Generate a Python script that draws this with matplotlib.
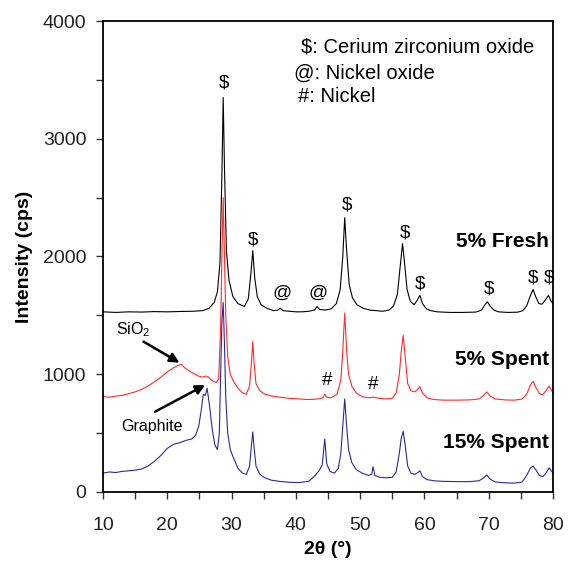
import matplotlib
matplotlib.use("Agg")
import matplotlib.pyplot as plt

plt.rcParams['font.family'] = ['Liberation Sans', 'DejaVu Sans']
plt.rcParams['mathtext.fontset'] = 'custom'
plt.rcParams['mathtext.rm'] = 'Liberation Sans'

# 2theta / intensity
fresh_x = [10, 12, 14, 16, 18, 20, 22, 24, 25.5, 26.5, 27.3, 27.8, 28.2, 28.5, 28.7, 28.9, 29.2, 29.6,
           30.2, 31.0, 32.0, 32.6, 33.0, 33.3, 33.6, 34.0, 34.6, 35.5, 36.5, 37.2, 37.6, 38.0, 39, 40,
           41, 42, 42.9, 43.3, 43.7, 44.5, 45.5, 46.3, 46.9, 47.3, 47.6, 47.9, 48.3, 48.8, 49.5, 50.5,
           51.5, 52.5, 53.5, 54.5, 55.2, 55.8, 56.2, 56.6, 56.9, 57.3, 57.8, 58.4, 58.9, 59.3, 59.7,
           60.3, 61, 62, 64, 66, 68, 68.9, 69.4, 69.8, 70.2, 70.8, 71.5, 73, 74.5, 75.3, 75.9, 76.5,
           76.9, 77.3, 77.8, 78.3, 78.8, 79.3, 79.7, 80]
fresh_y = [1530, 1525, 1530, 1528, 1532, 1530, 1533, 1535, 1540, 1560, 1610, 1700, 1950, 2700, 3350,
           2750, 2050, 1800, 1660, 1600, 1575, 1640, 1850, 2050, 1820, 1660, 1590, 1560, 1540, 1545,
           1560, 1540, 1535, 1530, 1530, 1535, 1545, 1575, 1550, 1545, 1555, 1600, 1720, 2000, 2330,
           2050, 1760, 1650, 1590, 1560, 1545, 1540, 1535, 1545, 1580, 1680, 1900, 2110, 1950, 1720,
           1620, 1590, 1630, 1670, 1600, 1555, 1540, 1530, 1525, 1525, 1528, 1545, 1590, 1615, 1580,
           1545, 1530, 1525, 1527, 1540, 1580, 1670, 1720, 1660, 1600, 1595, 1630, 1670, 1620, 1600]

spent5_x = [10, 11, 12, 13, 14, 15, 16, 17, 18, 19, 20, 21, 21.7, 22.2, 22.6, 23.2, 24, 24.8, 25.5,
            26.0, 26.4, 27.0, 27.6, 28.0, 28.3, 28.5, 28.7, 28.9, 29.1, 29.4, 29.8, 30.3, 31.0, 31.7,
            32.3, 32.8, 33.1, 33.3, 33.5, 33.8, 34.4, 35.2, 36.2, 37.5, 39, 40.5, 42, 43.5, 44.2, 44.5,
            44.8, 45.5, 46.4, 47.0, 47.3, 47.6, 47.9, 48.2, 48.7, 49.4, 50.3, 51.3, 52.0, 53, 54, 55,
            55.6, 56.1, 56.4, 56.7, 57.0, 57.4, 57.9, 58.5, 59.0, 59.3, 59.7, 60.4, 61.5, 63, 65, 67,
            68.5, 69.2, 69.7, 70.2, 71, 72.5, 74, 75.2, 75.9, 76.5, 76.9, 77.3, 77.9, 78.4, 78.9, 79.4,
            79.8, 80]
spent5_y = [810, 805, 815, 820, 835, 850, 870, 900, 935, 975, 1020, 1055, 1075, 1085, 1060, 1035, 1010,
            985, 975, 985, 975, 945, 930, 960, 1400, 2000, 2500, 2000, 1500, 1150, 1000, 940, 880, 840,
            830, 900, 1100, 1280, 1100, 920, 860, 830, 815, 805, 795, 790, 785, 790, 800, 830, 805, 800,
            830, 950, 1200, 1520, 1200, 1000, 900, 840, 810, 800, 805, 795, 790, 795, 840, 1000, 1200,
            1330, 1150, 920, 860, 850, 875, 895, 840, 800, 785, 780, 780, 782, 790, 820, 850, 815, 790,
            782, 780, 790, 830, 910, 940, 890, 835, 825, 860, 900, 860, 840]

spent15_x = [10, 11, 12, 13, 14, 15, 16, 17, 18, 19, 20, 21, 22, 23, 23.8, 24.4, 24.9, 25.3, 25.6,
             25.9, 26.2, 26.6, 27.0, 27.4, 27.8, 28.1, 28.3, 28.5, 28.7, 28.9, 29.1, 29.4, 29.8, 30.3,
             31.0, 31.7, 32.3, 32.8, 33.1, 33.3, 33.5, 33.8, 34.4, 35.2, 36.2, 37.5, 39, 40.5, 42, 43,
             43.6, 44.1, 44.5, 44.8, 45.3, 46.0, 46.6, 47.0, 47.3, 47.6, 47.9, 48.2, 48.7, 49.4, 50.3,
             51.3, 51.8, 52.0, 52.3, 53, 54, 55, 55.6, 56.1, 56.4, 56.7, 57.0, 57.4, 57.9, 58.5, 59.0,
             59.3, 59.7, 60.4, 61.5, 63, 65, 67, 68.5, 69.2, 69.7, 70.2, 71, 72.5, 74, 75.2, 75.9, 76.5,
             76.9, 77.3, 77.9, 78.4, 78.9, 79.4, 79.8, 80]
spent15_y = [160, 170, 165, 175, 180, 185, 195, 220, 260, 310, 370, 405, 420, 440, 450, 480, 560, 700,
             830, 820, 880, 720, 530, 400, 360, 500, 1000, 1450, 1610, 1250, 800, 500, 360, 290, 200,
             160, 150, 220, 400, 510, 380, 220, 150, 120, 100, 90, 82, 80, 90, 140, 180, 230, 450, 240,
             175, 160, 200, 330, 560, 790, 560, 360, 250, 190, 160, 140, 150, 215, 140, 125, 120, 125,
             170, 330, 460, 515, 400, 220, 160, 150, 165, 180, 130, 105, 95, 90, 88, 88, 95, 120, 145,
             110, 85, 78, 75, 85, 140, 205, 220, 190, 140, 130, 160, 205, 175, 160]

# phase markers: symbol, 2theta, height
marker_sym = ['$', '$', '$', '$', '$', '$', '$', '$', '@', '@', '#', '#']
marker_x = [28.9, 33.3, 47.9, 57.0, 59.3, 70.1, 76.9, 79.4, 37.9, 43.4, 44.8, 52.0]
marker_y = [3470, 2140, 2440, 2200, 1766, 1724, 1817, 1817, 1690, 1690, 951, 909]

legend_lines = ['$: Cerium zirconium oxide', '@: Nickel oxide', '#: Nickel']
legend_x = [40.8, 39.7, 40.3]
legend_y = [3779, 3558, 3355]

sample_names = ['5% Fresh', '5% Spent', '15% Spent']
sample_y = [2126, 1121, 419]

fig = plt.figure(figsize=(5.68, 5.62), dpi=100)
ax = fig.add_axes([0.1813, 0.1246, 0.7923, 0.8380])

ax.plot(fresh_x, fresh_y, color='black', lw=0.8)
ax.plot(spent5_x, spent5_y, color='#ff2a2a', lw=0.8)
ax.plot(spent15_x, spent15_y, color='#2a2a9a', lw=0.8)

for s, x, y in zip(marker_sym, marker_x, marker_y):
    ax.text(x, y, s, ha='center', va='center', fontsize=13.5)

for s, x, y in zip(legend_lines, legend_x, legend_y):
    ax.text(x, y, s, ha='left', va='center', fontsize=14.5)

for s, y in zip(sample_names, sample_y):
    ax.text(79.4, y, s, ha='right', va='center', fontsize=15, fontweight='bold')

arrow = dict(arrowstyle='-|>', color='black', lw=1.8, mutation_scale=14, shrinkA=0, shrinkB=0)
ax.text(12.0, 1376, 'SiO$_2$', fontsize=11.5, va='center', ha='left')
ax.annotate('', xy=(21.9, 1098), xytext=(16.3, 1277), arrowprops=arrow)
ax.text(12.9, 555, 'Graphite', fontsize=11.5, va='center', ha='left')
ax.annotate('', xy=(25.9, 909), xytext=(18.1, 682), arrowprops=arrow)

ax.set_xlim(10, 80)
ax.set_ylim(0, 4000)
ax.set_xticks(range(10, 81, 10))
ax.set_xticks(range(15, 80, 10), minor=True)
ax.set_yticks(range(0, 4001, 1000))
ax.set_yticks(range(500, 4000, 1000), minor=True)
ax.tick_params(which='both', direction='out', length=5, width=1, colors='#333333')
ax.tick_params(axis='x', labelsize=14, pad=13, labelcolor='#222222')
ax.tick_params(axis='y', labelsize=14, pad=7, labelcolor='#222222')
for sp in ax.spines.values():
    sp.set_linewidth(1.3)

ax.set_xlabel('2θ (°)', fontsize=14, fontweight='bold')
ax.set_ylabel('Intensity (cps)', fontsize=14, fontweight='bold')
ax.xaxis.set_label_coords(0.5, -0.105)
ax.yaxis.set_label_coords(-0.155, 0.5)

fig.savefig('out.png', dpi=100)
